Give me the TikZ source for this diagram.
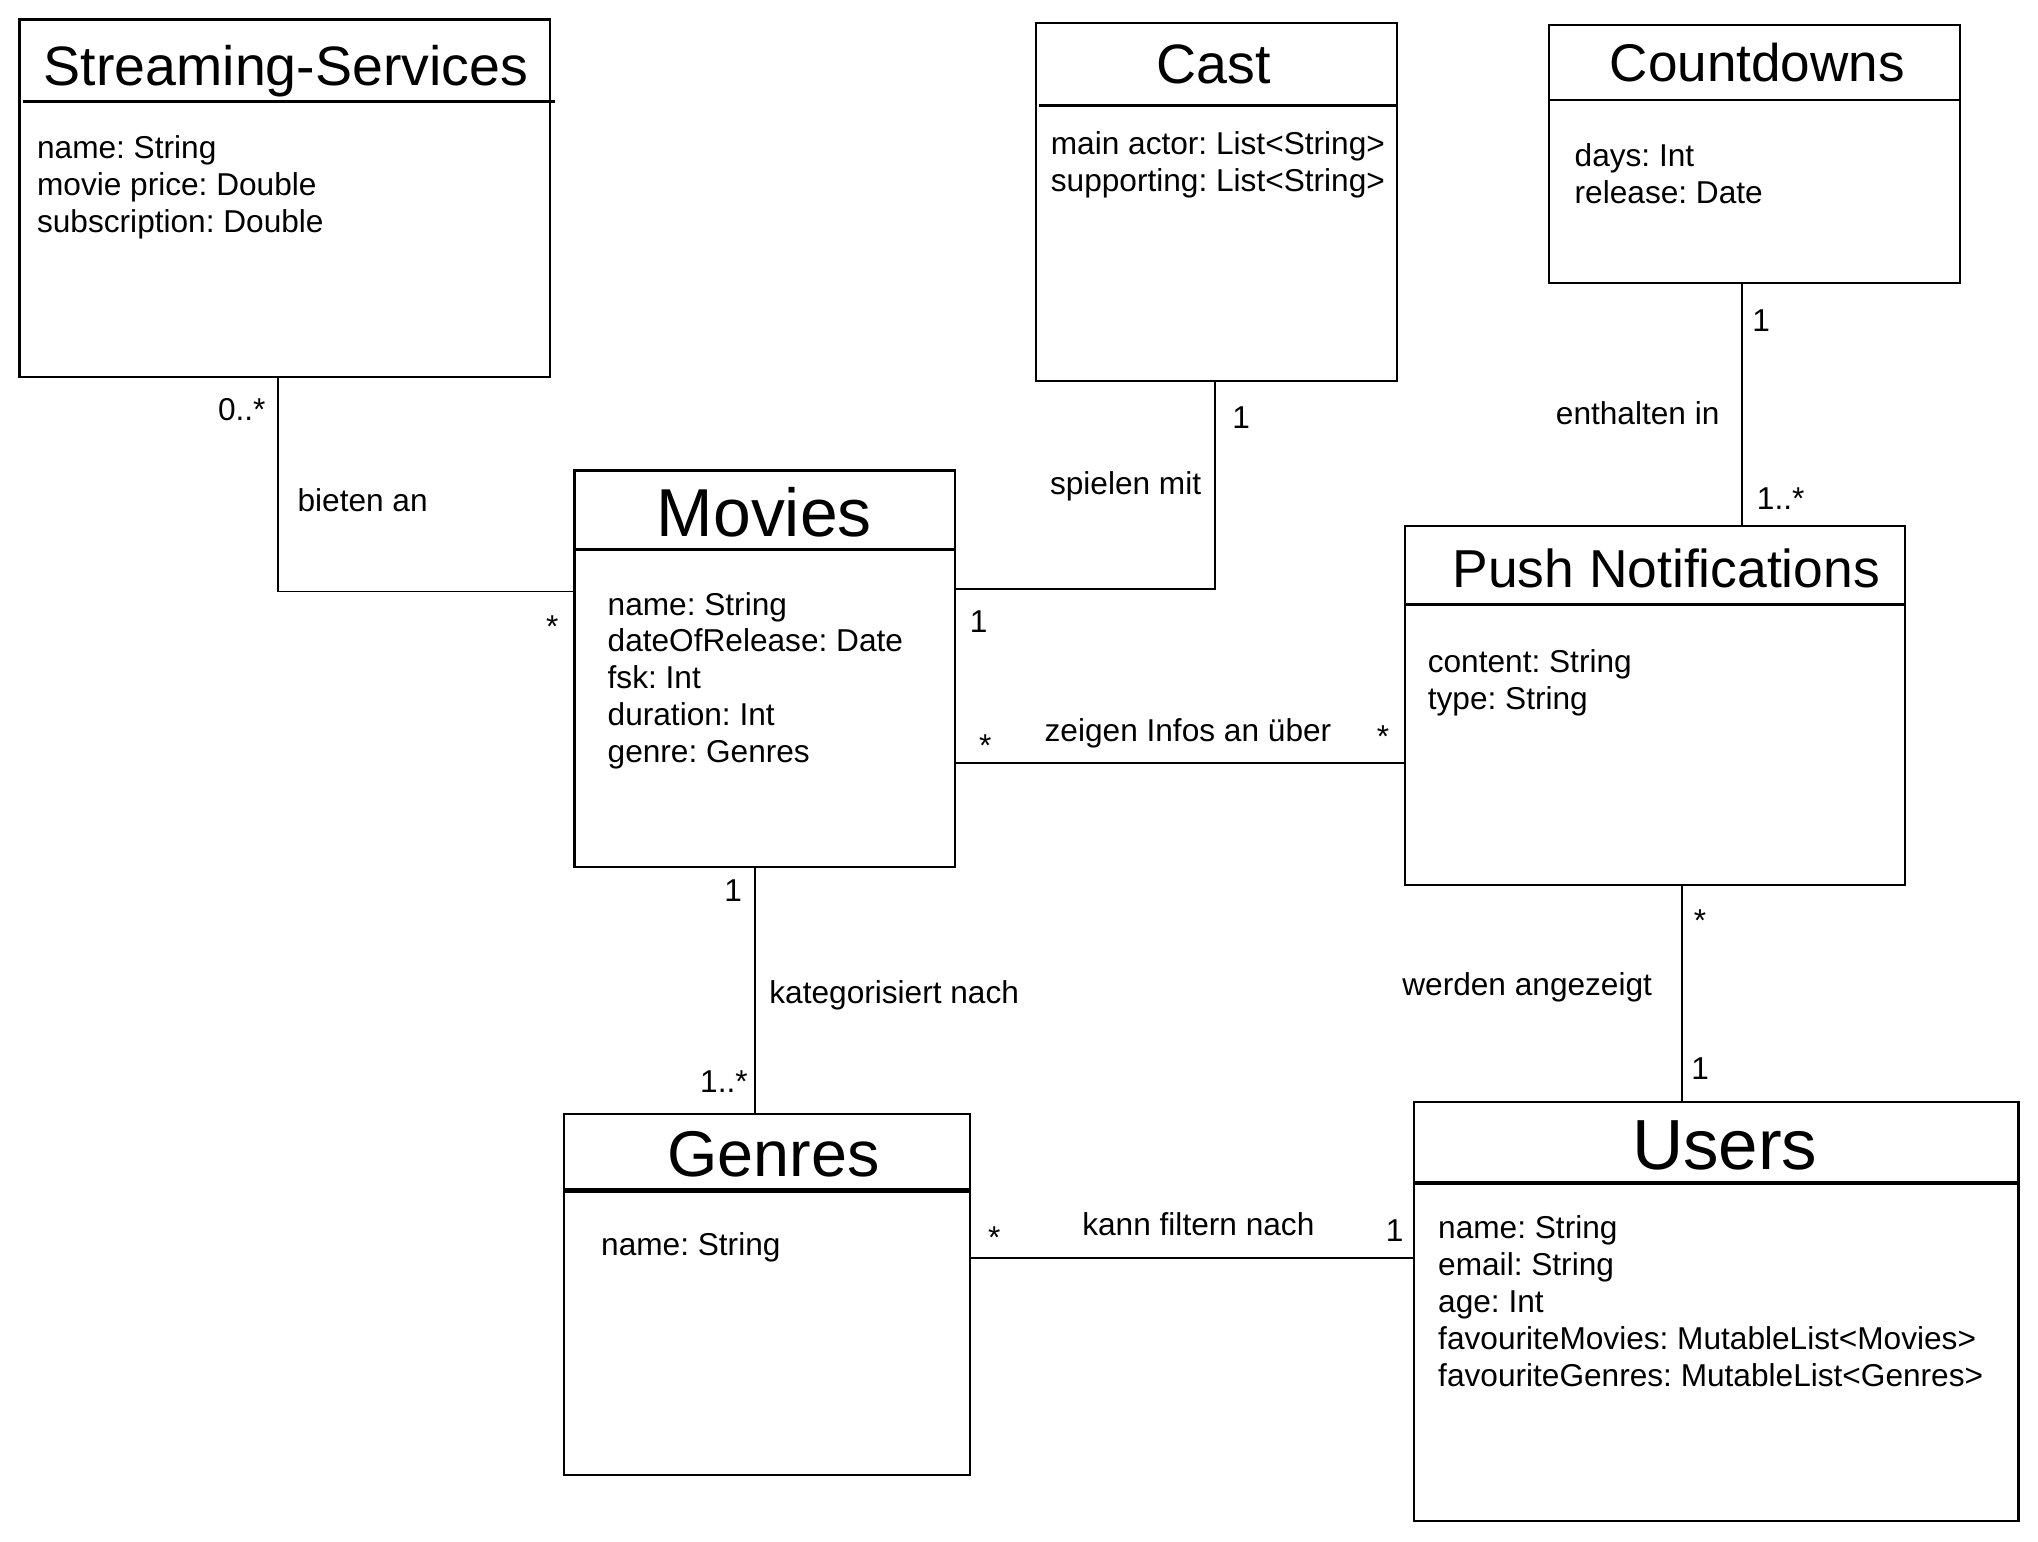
\documentclass[tikz,border=0pt]{standalone}
\usepackage{fontspec}
\setmainfont{Liberation Sans}
\usetikzlibrary{fit}
\frenchspacing

\tikzset{
  cls/.style={draw, line width=0.6pt, inner sep=0pt},
  hdr/.style={line width=0.8pt},
  assoc/.style={line width=0.5pt},
  ttl/.style={anchor=base, inner sep=0pt, font=\fontsize{15.5}{18}\selectfont},
  attr/.style={anchor=north west, align=left, inner sep=0pt, font=\fontsize{9}{10.5}\selectfont},
  lbl/.style={inner sep=0pt, font=\fontsize{9}{11}\selectfont},
}

\begin{document}
\begin{tikzpicture}[x=0.013cm, y=-0.013cm]
\useasboundingbox (0,0) rectangle (1568,1186);

% Streaming-Services
\node[cls, fit={(15,15) (423,290)}] (stream) {};
\draw[hdr] (18,78) -- (427,78);
\node[ttl, font=\fontsize{15.8}{18}\selectfont] (streamt) at (220,66) {Streaming-Services};
\node[attr] (streama) at (28,104) {name: String\\movie price: Double\\subscription: Double};

% Cast
\node[cls, fit={(797,18) (1075,293)}] (cast) {};
\draw[hdr] (799,81) -- (1075,81);
\node[ttl, font=\fontsize{15.8}{18}\selectfont] (castt) at (934,64) {Cast};
\node[attr] (casta) at (808,101) {main actor: List<String>\\supporting: List<String>};

% Countdowns
\node[cls, fit={(1192,19) (1508,218)}] (count) {};
\draw[hdr] (1192,77) -- (1508,77);
\node[ttl, font=\fontsize{15.1}{18}\selectfont] (countt) at (1352,63) {Countdowns};
\node[attr] (counta) at (1211,110) {days: Int\\release: Date};

% Movies
\node[cls, fit={(442,362) (735,667)}] (movies) {};
\draw[hdr] (442,423) -- (735,423);
\node[ttl, font=\fontsize{19.3}{22}\selectfont] (moviest) at (588,413) {Movies};
\node[attr] (moviesa) at (467,455) {name: String\\dateOfRelease: Date\\fsk: Int\\duration: Int\\genre: Genres};

% Push Notifications
\node[cls, fit={(1081,405) (1466,681)}] (push) {};
\draw[hdr] (1081,465) -- (1466,465);
\node[ttl, font=\fontsize{15.2}{18}\selectfont] (pusht) at (1282,452) {Push Notifications};
\node[attr] (pusha) at (1098,499) {content: String\\type: String};

% Genres
\node[cls, fit={(434,857) (746,1135)}] (genres) {};
\draw[hdr, line width=1.2pt] (434,916) -- (746,916);
\node[ttl, font=\fontsize{18.4}{22}\selectfont] (genrest) at (595,905) {Genres};
\node[attr] (genresa) at (462,948) {name: String};

% Users
\node[cls, fit={(1088,848) (1553,1170)}] (users) {};
\draw[hdr, line width=1pt] (1088,910) -- (1553,910);
\node[ttl, font=\fontsize{20.2}{24}\selectfont] (userst) at (1327,900) {Users};
\node[attr] (usersa) at (1106,935) {name: String\\email: String\\age: Int\\favouriteMovies: MutableList<Movies>\\favouriteGenres: MutableList<Genres>};

% Associations
\coordinate (sm) at (214,455);
\coordinate (cm) at (935,453);
\coordinate (cp) at (1340,300);
\coordinate (mp) at (900,587);
\coordinate (mg) at (581,760);
\coordinate (pu) at (1294,760);
\coordinate (gu) at (900,968);

\draw[assoc] (stream.south -| sm) -- (sm) -- (movies.west |- sm);
\draw[assoc] (cast.south -| cm) -- (cm) -- (movies.east |- cm);
\draw[assoc] (count.south -| cp) -- (push.north -| cp);
\draw[assoc] (movies.east |- mp) -- (push.west |- mp);
\draw[assoc] (movies.south -| mg) -- (genres.north -| mg);
\draw[assoc] (push.south -| pu) -- (users.north -| pu);
\draw[assoc] (genres.east |- gu) -- (users.west |- gu);

% Labels
\node[lbl] (l1) at (186,315) {0..*};
\node[lbl] (l2) at (279,385) {bieten an};
\node[lbl] (l3) at (425,482) {*};

\node[lbl] (l4) at (955,321) {1};
\node[lbl] (l5) at (866,374) {spielen mit};
\node[lbl] (l6) at (753,478) {1};

\node[lbl] (l7) at (1355,247) {1};
\node[lbl] (l8) at (1260,318) {enthalten in};
\node[lbl] (l9) at (1370,384) {1..*};

\node[lbl] (l10) at (758,574) {*};
\node[lbl] (l11) at (914,564) {zeigen Infos an über};
\node[lbl] (l12) at (1064,567) {*};

\node[lbl] (l13) at (564,685) {1};
\node[lbl] (l14) at (688,766) {kategorisiert nach};
\node[lbl] (l15) at (557,832) {1..*};

\node[lbl] (l16) at (1308,708) {*};
\node[lbl] (l17) at (1175,760) {werden angezeigt};
\node[lbl] (l18) at (1308,822) {1};

\node[lbl] (l19) at (765,952) {*};
\node[lbl] (l20) at (922,942) {kann filtern nach};
\node[lbl] (l21) at (1073,947) {1};

\end{tikzpicture}
\end{document}
